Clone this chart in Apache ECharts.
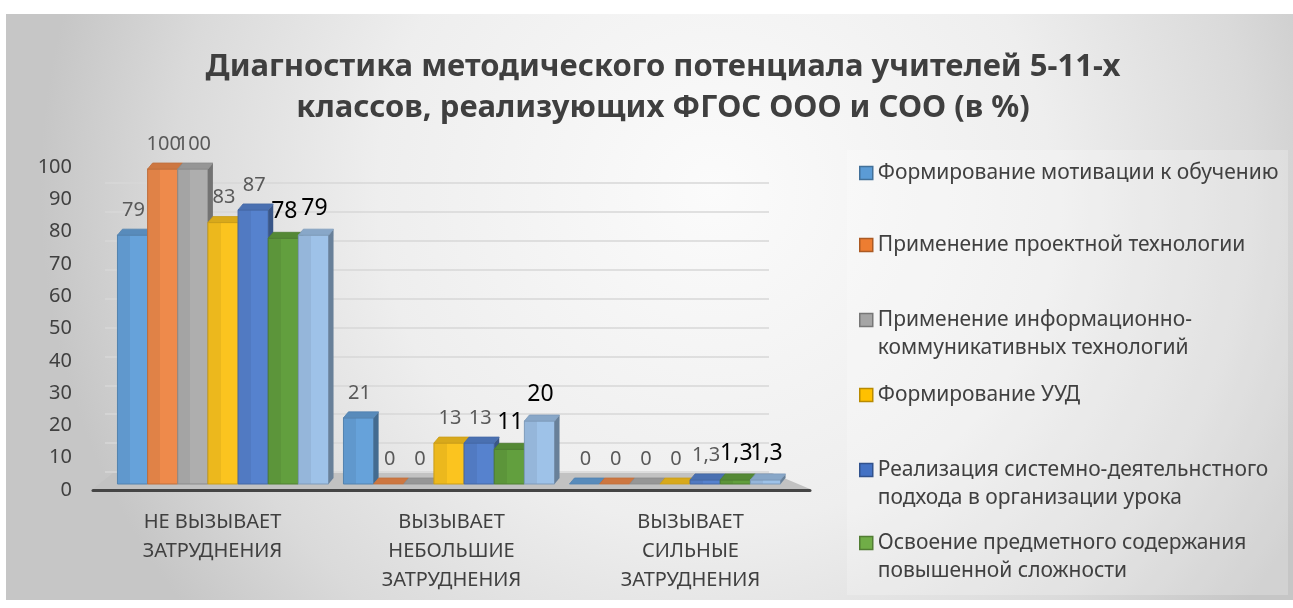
<!DOCTYPE html>
<html><head><meta charset="utf-8">
<script src="https://cdn.jsdelivr.net/npm/echarts@6/dist/echarts.min.js"></script>
<style>html,body{margin:0;padding:0;background:#fff;}#c{width:1293px;height:608px;}</style>
</head><body><div id="c"></div>
<script>
// ---------- data ----------
const categories = ['НЕ ВЫЗЫВАЕТ\nЗАТРУДНЕНИЯ', 'ВЫЗЫВАЕТ\nНЕБОЛЬШИЕ\nЗАТРУДНЕНИЯ', 'ВЫЗЫВАЕТ\nСИЛЬНЫЕ\nЗАТРУДНЕНИЯ'];
const seriesNames = [
  'Формирование мотивации к обучению',
  'Применение проектной технологии',
  'Применение информационно-\nкоммуникативных технологий',
  'Формирование УУД',
  'Реализация системно-деятельнстного\nподхода в организации урока',
  'Освоение предметного содержания\nповышенной сложности',
  'Ряд 7'
];
const motivation = [79, 21, 0];
const projectTech = [100, 0, 0];
const ictTech = [100, 0, 0];
const uud = [83, 13, 0];
const systemApproach = [87, 13, 1.3];
const subjectContent = [78, 11, 1.3];
const series7 = [79, 20, 1.3];
const yMin = 0, yMax = 100, yStep = 10;

const seriesData = [motivation, projectTech, ictTech, uud, systemApproach, subjectContent, series7];
const colors = ['#66A2DA', '#EE8A4B', '#AEAEAE', '#FBC41F', '#5682CE', '#629F3E', '#9EC2E8'];
const legendColors = ['#5B9BD5', '#ED7D31', '#A5A5A5', '#FFC000', '#4472C4', '#70AD47'];
const legendCount = 6;

// ---------- styling ----------
const FONT = '"Noto Sans", "Open Sans", sans-serif';
const N = seriesData.length;
const GAP = 0.066;
const DX = 5, DY = 6;
function shade(c, f) {
  const a = echarts.color.parse(c);
  return 'rgb(' + [0, 1, 2].map(i => Math.max(0, Math.min(255, Math.round(a[i] * f)))).join(',') + ')';
}

function barSeries(sIdx) {
  const c = colors[sIdx];
  const big = sIdx >= 5;
  return {
    type: 'custom',
    name: seriesNames[sIdx],
    xAxisIndex: 1, yAxisIndex: 1,
    z: 3,
    itemStyle: { color: sIdx < legendCount ? legendColors[sIdx] : c },
    data: seriesData[sIdx].map((v, i) => [i, v]),
    renderItem: function (params, api) {
      const ci = api.value(0), v = api.value(1);
      const base = api.coord([ci, 0]);
      const top = api.coord([ci, v]);
      const catW = api.size([1, 0])[0];
      const groupW = catW * (1 - GAP);
      const bw = groupW / N;
      const x0 = base[0] - groupW / 2 + sIdx * bw;
      const x1 = x0 + bw;
      const yb = base[1], yt = top[1];
      const dark = shade(c, 0.94), edge = shade(c, 0.8), topC = shade(c, 0.86), sideC = shade(c, 0.66);
      const children = [];
      if (yb - yt > 0.5) {
        children.push({
          type: 'rect',
          shape: { x: x0, y: yt, width: bw, height: yb - yt },
          style: {
            fill: new echarts.graphic.LinearGradient(0, 0, 1, 0, [
              { offset: 0, color: dark }, { offset: 0.42, color: dark },
              { offset: 0.42, color: c }, { offset: 1, color: c }]),
            stroke: edge, lineWidth: 1
          }
        });
        children.push({
          type: 'polygon',
          shape: { points: [[x1, yt], [x1 + DX, yt - DY], [x1 + DX, yb - DY], [x1, yb]] },
          style: { fill: sideC }
        });
      }
      children.push({
        type: 'polygon',
        shape: { points: [[x0, yt], [x1, yt], [x1 + DX, yt - DY], [x0 + DX, yt - DY]] },
        style: { fill: topC, stroke: edge, lineWidth: 0.8 }
      });
      children.push({
        type: 'text',
        z2: 100,
        style: {
          text: String(v).replace('.', ','),
          x: x0 + bw / 2 + 1,
          y: yt - DY - 9,
          align: 'center', verticalAlign: 'bottom',
          fill: big ? '#000000' : '#595959',
          fontSize: big ? 23 : 20,
          fontFamily: FONT
        }
      });
      return { type: 'group', children: children };
    }
  };
}

const floorSeries = {
  type: 'custom',
  name: 'floor',
  xAxisIndex: 2, yAxisIndex: 2,
  z: 1, silent: true,
  data: [[0, 0]],
  renderItem: function (params, api) {
    const cs = params.coordSys;
    const b = cs.y + cs.height;
    return {
      type: 'polygon',
      shape: { points: [[cs.x, b - 1], [cs.x + cs.width, b - 1], [cs.x + cs.width - 38, b - 17], [cs.x + 20, b - 17]] },
      style: { fill: '#c2c2c2' }
    };
  }
};

const legendTops = [159, 231, 278, 381, 428, 501];
const legends = [];
for (let i = 0; i < legendCount; i++) {
  const two = seriesNames[i].indexOf('\n') >= 0;
  legends.push({
    data: [seriesNames[i]],
    left: 859, top: legendTops[i],
    orient: 'vertical', padding: 0,
    icon: 'rect', itemWidth: 13, itemHeight: 13,
    selectedMode: false,
    formatter: two ? '\n{name}' : '{name}',
    itemStyle: { borderColor: shade(legendColors[i], 0.72), borderWidth: 1.5 },
    textStyle: { fontSize: 21, color: '#404040', fontFamily: FONT, lineHeight: 28 }
  });
}

const chart = echarts.init(document.getElementById('c'));
chart.setOption({
  animation: false,
  title: {
    text: 'Диагностика методического потенциала учителей 5-11-х\nклассов, реализующих ФГОС ООО и СОО (в %)',
    left: 663, top: 47, padding: 0, textAlign: 'center',
    textStyle: { fontSize: 31, fontWeight: 'bold', color: '#3f3f3f', lineHeight: 41, fontFamily: FONT }
  },
  graphic: { elements: [
    { type: 'rect', z: -100, silent: true, shape: { x: 6, y: 14, width: 1287, height: 586 },
      style: { fill: new echarts.graphic.RadialGradient(0.55, 0.3, 1.15, [
        { offset: 0, color: '#fbfbfb' }, { offset: 0.5, color: '#eeeeee' },
        { offset: 0.8, color: '#dadada' }, { offset: 1, color: '#c6c6c6' }]) } },
    { type: 'rect', z: -99, silent: true, shape: { x: 847, y: 150, width: 441, height: 445 },
      style: { fill: 'rgba(255,255,255,0.22)' } }
  ] },
  legend: legends,
  grid: [
    { left: 105, right: 524, top: 183, bottom: 136 },   // back wall (gridlines)
    { left: 110, right: 505, top: 169, bottom: 124 },   // bars
    { left: 93, right: 483, top: 167, bottom: 118 }     // axis labels
  ],
  xAxis: [
    { gridIndex: 0, type: 'value', show: false },
    { gridIndex: 1, type: 'category', data: categories, show: false },
    { gridIndex: 2, type: 'category', data: categories,
      axisLine: { lineStyle: { color: '#454545', width: 3 } },
      axisTick: { show: false },
      axisLabel: { fontSize: 20, lineHeight: 29, color: '#404040', fontFamily: FONT, margin: 18 } }
  ],
  yAxis: [
    { gridIndex: 0, type: 'value', min: yMin, max: yMax, interval: yStep,
      axisLabel: { show: false }, axisLine: { show: false }, axisTick: { show: false },
      splitLine: { lineStyle: { color: '#d7d7d7', width: 1.5 } } },
    { gridIndex: 1, type: 'value', min: yMin, max: yMax, interval: yStep, show: false, splitLine: { show: false } },
    { gridIndex: 2, type: 'value', min: yMin, max: yMax, interval: yStep,
      axisLine: { show: false }, axisTick: { show: false }, splitLine: { show: false },
      axisLabel: { fontSize: 20, color: '#404040', fontFamily: FONT, margin: 21 } }
  ],
  series: [floorSeries].concat(seriesData.map((d, i) => barSeries(i)))
});
</script></body></html>
